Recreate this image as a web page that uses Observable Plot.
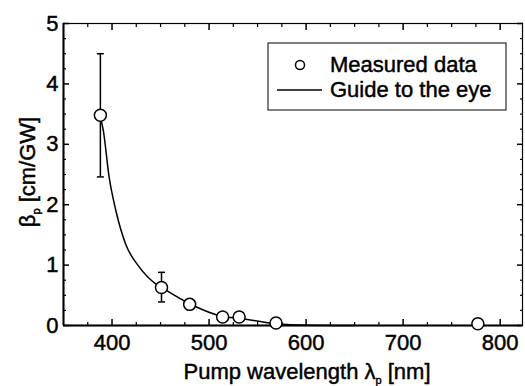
<!DOCTYPE html>
<html>
<head>
<meta charset="utf-8">
<script src="https://cdn.jsdelivr.net/npm/d3@7"></script>
<script src="https://cdn.jsdelivr.net/npm/@observablehq/plot@0.6"></script>
<style>
  html, body { margin: 0; padding: 0; background: white; }
  #chart { position: relative; width: 525px; height: 386px; }
  #chart svg text { stroke: black; stroke-width: 0.45px; }
</style>
</head>
<body>
<div id="chart"></div>
<script>
// ---- data ----
const measX = [388, 451, 480, 514, 531, 569, 777];
const measY = [3.48, 0.63, 0.35, 0.14, 0.14, 0.04, 0.03];

const errX  = [388, 451];
const errLo = [2.46, 0.39];
const errHi = [4.50, 0.88];

const guideX = [388, 391, 397, 404, 414, 428, 445, 451, 480, 514, 531, 569, 600, 650];
const guideY = [3.45, 3.23, 2.46, 1.90, 1.35, 0.97, 0.69, 0.63, 0.36, 0.15, 0.12, 0.03, 0.005, 0];

const xMajor = [400, 500, 600, 700, 800];
const xMinor = [375, 425, 450, 475, 525, 550, 575, 625, 650, 675, 725, 750, 775];
const yMajor = [0, 1, 2, 3, 4, 5];
const yMinor = [0.25, 0.5, 0.75, 1.25, 1.5, 1.75, 2.25, 2.5, 2.75, 3.25, 3.5, 3.75,
                4.25, 4.5, 4.75];

const legendLabels = ["Measured data", "Guide to the eye"];

// ---- tables ----
const meas = measX.map((x, i) => ({x, y: measY[i]}));
const err = errX.map((x, i) => ({x, lo: errLo[i], hi: errHi[i]}));
const guide = guideX.map((x, i) => ({x, y: guideY[i]}));

// ---- layout ----
const W = 525, H = 386, mL = 63, mR = 3, mT = 23, mB = 61;
const font = "'Liberation Sans', Arial, Helvetica, sans-serif";
const noText = () => "";

const capSymbol = {
  draw(ctx, size) {
    const r = Math.sqrt(size / Math.PI);
    ctx.moveTo(-r, 0);
    ctx.lineTo(r, 0);
  }
};

// inward tick helper: an axis whose ticks are shifted back inside the frame
function inTicks(dim, anchor, ticks, size, sw) {
  const o = {anchor, tickSize: size, tickFormat: noText, label: null, stroke: "black", strokeWidth: sw};
  if (anchor === "bottom") o.dy = -size;
  if (anchor === "top") o.dy = size;
  if (anchor === "left") o.dx = size;
  if (anchor === "right") o.dx = -size;
  return dim === "x" ? Plot.axisX(ticks, o) : Plot.axisY(ticks, o);
}

const chart = Plot.plot({
  width: W, height: H,
  marginLeft: mL, marginRight: mR, marginTop: mT, marginBottom: mB,
  style: {fontFamily: font, fontSize: "22px", color: "black", background: "white"},
  x: {domain: [350, 823], label: null},
  y: {domain: [0, 5], label: null},
  marks: [
    // tick labels
    Plot.axisX(xMajor, {anchor: "bottom", tickSize: 0, tickPadding: 9, fontSize: 22, label: null, tickFormat: d => String(d)}),
    Plot.axisY(yMajor, {anchor: "left", tickSize: 0, tickPadding: 5, fontSize: 22, label: null, tickFormat: d => String(d)}),
    // inward ticks on all four sides
    inTicks("x", "bottom", xMajor, 6, 1.5),
    inTicks("x", "bottom", xMinor, 3, 1.2),
    inTicks("x", "top", xMajor, 6, 1.5),
    inTicks("x", "top", xMinor, 3, 1.2),
    inTicks("y", "left", yMajor, 6, 1.5),
    inTicks("y", "left", yMinor, 3, 1.2),
    inTicks("y", "right", yMajor, 6, 1.5),
    inTicks("y", "right", yMinor, 3, 1.2),
    // frame
    Plot.frame({stroke: "black", strokeWidth: 1.2}),
    Plot.ruleY([0], {stroke: "black", strokeWidth: 2}),
    Plot.ruleX([350], {stroke: "black", strokeWidth: 2}),
    // guide to the eye
    Plot.line(guide, {x: "x", y: "y", curve: "monotone-x", stroke: "black", strokeWidth: 1.5}),
    // error bars
    Plot.ruleX(err, {x: "x", y1: "lo", y2: "hi", stroke: "black", strokeWidth: 1.5}),
    Plot.dot(err, {x: "x", y: "lo", symbol: capSymbol, r: 3.5, stroke: "black", strokeWidth: 1.5, fill: "none"}),
    Plot.dot(err, {x: "x", y: "hi", symbol: capSymbol, r: 3.5, stroke: "black", strokeWidth: 1.5, fill: "none"}),
    // measured data
    Plot.dot(meas, {x: "x", y: "y", r: 6, fill: "white", stroke: "black", strokeWidth: 1.5})
  ]
});

const svg = d3.select(chart);

// axis titles with subscripts
const xt = svg.append("text")
  .attr("x", 307).attr("y", 379)
  .attr("text-anchor", "middle")
  .attr("font-family", font).attr("font-size", 22).attr("fill", "black");
xt.append("tspan").text("Pump wavelength λ");
xt.append("tspan").attr("font-size", 11).attr("dy", 5).attr("fill", "black").text("p");
xt.append("tspan").attr("dy", -5).text(" [nm]");

const yt = svg.append("text")
  .attr("transform", "translate(35,172) rotate(-90)")
  .attr("text-anchor", "middle")
  .attr("font-family", font).attr("font-size", 22).attr("fill", "black");
yt.append("tspan").text("β");
yt.append("tspan").attr("font-size", 11).attr("dy", 5).attr("fill", "black").text("p");
yt.append("tspan").attr("dy", -5).text(" [cm/GW]");

// legend
const lg = svg.append("g");
lg.append("rect").attr("x", 268).attr("y", 43).attr("width", 238).attr("height", 67)
  .attr("fill", "white").attr("stroke", "black").attr("stroke-width", 1);
lg.append("circle").attr("cx", 300).attr("cy", 65).attr("r", 4.5)
  .attr("fill", "white").attr("stroke", "black").attr("stroke-width", 1.5);
lg.append("line").attr("x1", 277).attr("x2", 322).attr("y1", 90).attr("y2", 90)
  .attr("stroke", "black").attr("stroke-width", 1.5);
lg.selectAll("text.lab").data(legendLabels).join("text")
  .attr("class", "lab")
  .attr("x", 330).attr("y", (d, i) => 72 + i * 25)
  .attr("text-anchor", "start")
  .attr("font-family", font).attr("font-size", 22).attr("fill", "black")
  .text(d => d);

document.getElementById("chart").appendChild(chart);
</script>
</body>
</html>
